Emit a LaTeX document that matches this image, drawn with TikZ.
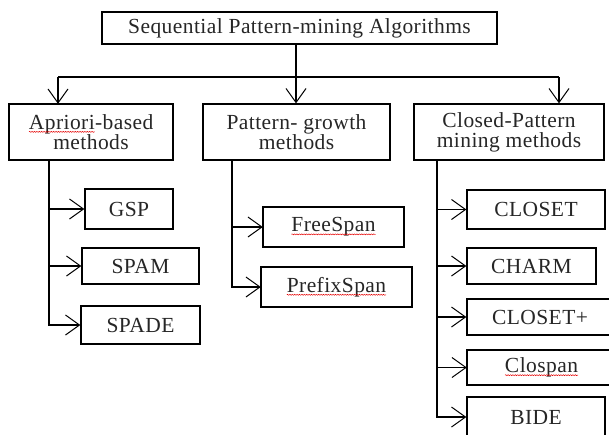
\documentclass[tikz,border=0pt]{standalone}
\usepackage{fontspec}
\setmainfont[LetterSpace=2]{Liberation Serif}
\usetikzlibrary{arrows.meta,decorations.pathmorphing}
\newcommand\spellsq[1]{\tikz[baseline=(sqw.base)]{\node[draw=none,inner sep=0pt,outer sep=0pt,minimum width=0pt,minimum height=0pt](sqw){#1};\draw[red!90!black,line width=0.5pt,decorate,decoration={snake,amplitude=0.5pt,segment length=2.4pt}] ([yshift=-2.5pt]sqw.base west) -- ([yshift=-2.5pt]sqw.base east);}}
\begin{document}
\begin{tikzpicture}[x=1pt,y=-1pt,line width=1.3pt,
  box/.style={draw,rectangle,inner sep=0pt,font=\fontsize{21.5}{20}\selectfont,align=center,text=black!85},
  arr/.style={-{Straight Barb[length=14pt,width=20pt,line width=1pt]}}]
\useasboundingbox (0,0) rectangle (609,434);
\clip (0,0) rectangle (609,434);
% top
\node[box,minimum width=395,minimum height=32] (root) at (299.5,28) {Sequential Pattern-mining Algorithms};
% level 2
\node[box,minimum width=164,minimum height=56] (apr) at (91,132) {\spellsq{Apriori}-based\\methods};
\node[box,minimum width=187,minimum height=56] (pg) at (296.5,132) {Pattern- growth\\methods};
\node[box,minimum width=190,minimum height=56] (cp) at (509,132) {Closed-Pattern\\mining methods};
% connectors top
\coordinate (hub) at (296,77);
\coordinate (hl) at (58,77);
\coordinate (hr) at (559,77);
\draw (root.south -| hub) -- (hub);
\draw (hl) -- (hr);
\draw[arr] (hl) -- (hl |- apr.north);
\draw[arr] (hub) -- (hub |- pg.north);
\draw[arr] (hr) -- (hr |- cp.north);
% apriori children
\node[box,minimum width=88,minimum height=40] (gsp) at (129,209) {GSP};
\node[box,minimum width=117,minimum height=36] (spam) at (140.5,266) {SPAM};
\node[box,minimum width=119,minimum height=38] (spade) at (140.5,325) {SPADE};
\coordinate (ls) at (49,160);
\draw[arr] (ls) |- (gsp.west);
\draw[arr] (ls) |- (spam.west);
\draw[arr] (ls) |- (spade.west);
% pattern growth children
\node[box,minimum width=141,minimum height=40] (free) at (333.5,227) {\spellsq{FreeSpan}};
\node[box,minimum width=151,minimum height=40] (prefix) at (336.5,287) {\spellsq{PrefixSpan}};
\coordinate (ms) at (232,160);
\draw[arr] (ms) |- (free.west);
\draw[arr] (ms) |- (prefix.west);
% closed pattern children
\node[box,minimum width=138,minimum height=39] (closet) at (536,209.5) {CLOSET};
\node[box,minimum width=129,minimum height=36] (charm) at (531.5,266) {CHARM};
\node[box,minimum width=146,minimum height=36] (closetp) at (540,317) {CLOSET+};
\node[box,minimum width=149,minimum height=35] (clospan) at (541.5,367.5) {\spellsq{Clospan}};
\node[box,minimum width=138,minimum height=40] (bide) at (536,417) {BIDE};
\coordinate (rs) at (437,160);
\draw[arr] (rs) |- (closet.west);
\draw[arr] (rs) |- (charm.west);
\draw[arr] (rs) |- (closetp.west);
\draw[arr] (rs) |- (clospan.west);
\draw[arr] (rs) |- (bide.west);
\end{tikzpicture}
\end{document}
